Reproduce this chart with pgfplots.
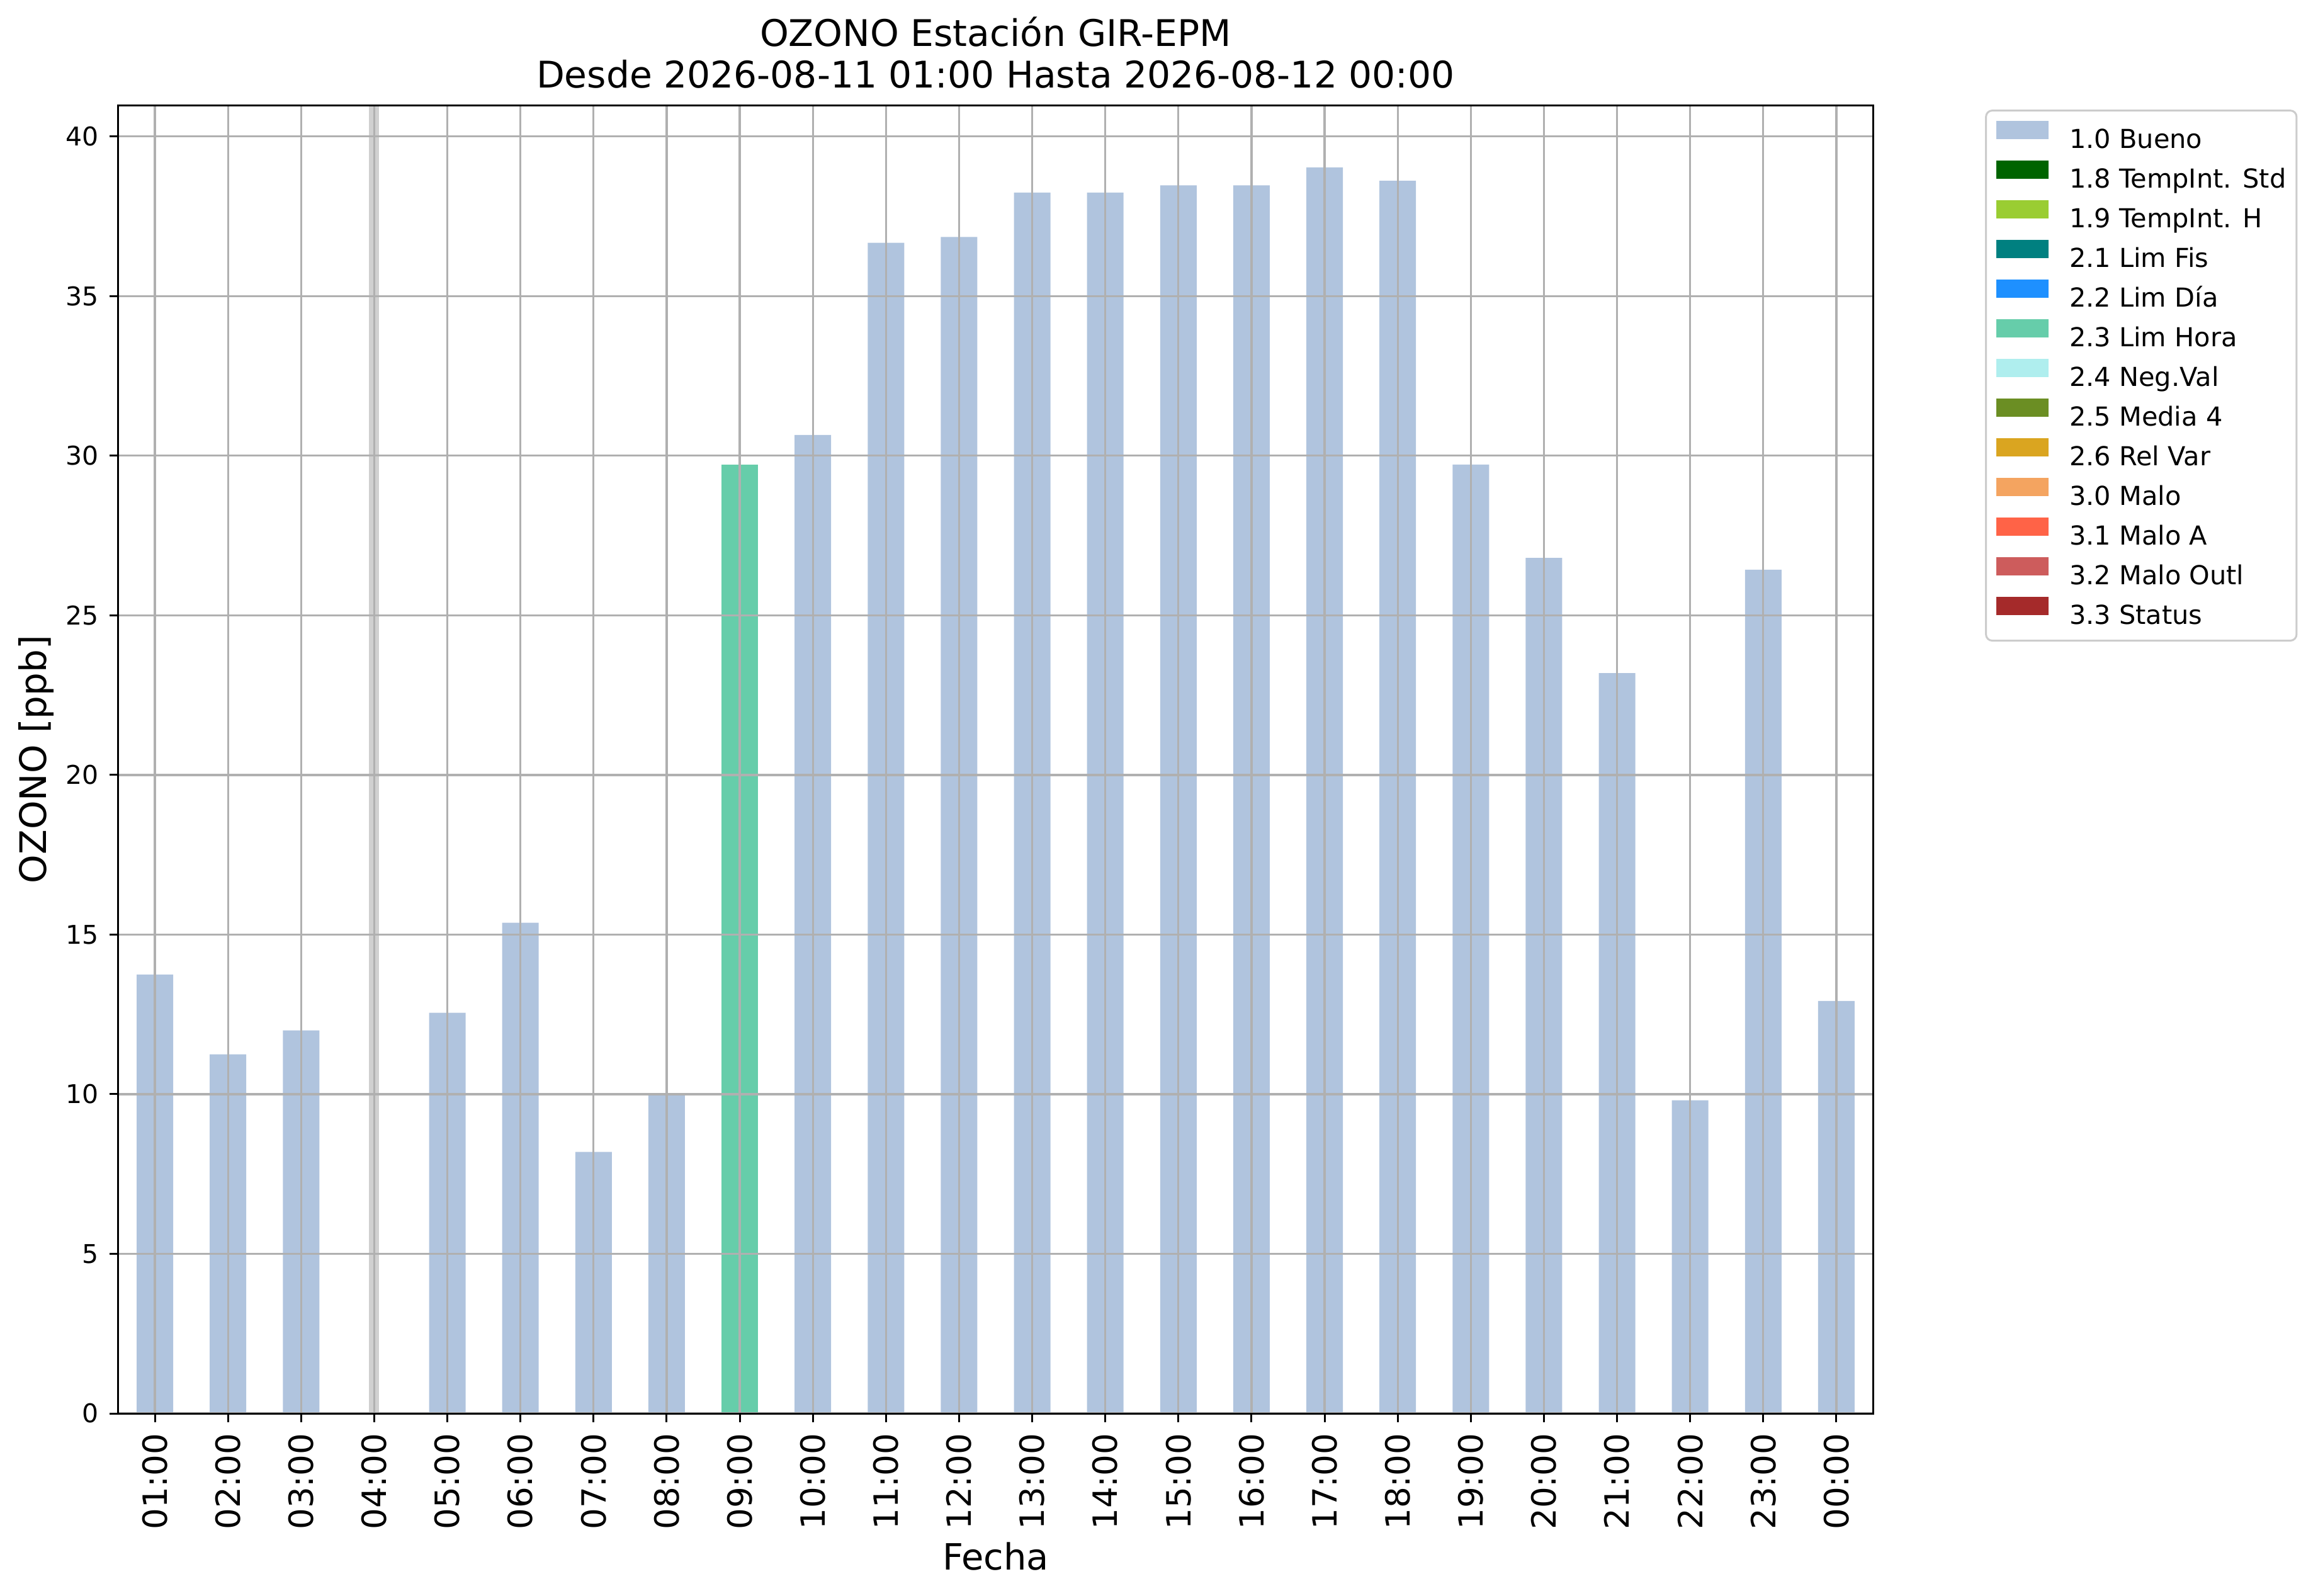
\documentclass[border=0pt]{standalone}
\usepackage{fontspec}
\setmainfont{DejaVu Sans}
\usepackage{pgfplots}
\pgfplotsset{compat=1.18}
\definecolor{bueno}{HTML}{B0C4DE}
\definecolor{tstd}{HTML}{006400}
\definecolor{th}{HTML}{9ACD32}
\definecolor{lfis}{HTML}{008080}
\definecolor{ldia}{HTML}{1E90FF}
\definecolor{lhora}{HTML}{66CDAA}
\definecolor{negval}{HTML}{AFEEEE}
\definecolor{media}{HTML}{6B8E23}
\definecolor{relvar}{HTML}{DAA520}
\definecolor{malo}{HTML}{F4A460}
\definecolor{maloa}{HTML}{FF6347}
\definecolor{maloo}{HTML}{CD5C5C}
\definecolor{status}{HTML}{A52A2A}
\definecolor{gridc}{HTML}{B0B0B0}
\definecolor{bandc}{HTML}{D0D0D0}
\definecolor{legc}{HTML}{CCCCCC}
\begin{document}
\begin{tikzpicture}
\path[use as bounding box] (-37.6pt,-57.8pt) rectangle (698.8pt,449pt);
\begin{axis}[
  at={(0,0)}, anchor=south west,
  scale only axis, width=557.4pt, height=415.6pt,
  xmin=-0.5, xmax=23.5, ymin=0, ymax=40.98,
  xtick={0,...,23},
  xticklabels={01:00,02:00,03:00,04:00,05:00,06:00,07:00,08:00,09:00,10:00,11:00,12:00,13:00,14:00,15:00,16:00,17:00,18:00,19:00,20:00,21:00,22:00,23:00,00:00},
  ytick={0,5,...,40},
  /pgf/number format/assume math mode=true,
  grid=major,
  grid style={color=gridc, line width=0.66pt},
  axis line style={line width=0.6pt},
  tick style={black, line width=0.6pt},
  tick align=outside, major tick length=2.8pt,
  xtick pos=bottom, ytick pos=left,
  axis on top,
  yticklabel style={font=\fontsize{8.2}{9}\selectfont},
  xticklabel style={rotate=90, anchor=east, font=\fontsize{10.6}{12}\selectfont},
  title={OZONO Estación GIR-EPM\\Desde 2026-08-11 01:00 Hasta 2026-08-12 00:00},
  title style={at={(axis description cs:0.5,1)}, anchor=center, yshift=10.6pt, align=center, font=\fontsize{11.66}{13.2}\selectfont},
  xlabel={Fecha},
  ylabel={OZONO [ppb]},
  every axis x label/.style={at={(axis description cs:0.5,-0.1092)}, anchor=center, font=\fontsize{11.5}{13}\selectfont},
  every axis y label/.style={at={(axis description cs:-0.0470,0.5)}, rotate=90, anchor=center, font=\fontsize{11.6}{13}\selectfont},
  legend style={at={(1.0639,0.9966)}, anchor=north west, draw=legc, line width=0.6pt, rounded corners=2pt,
    font=\fontsize{8.3}{9.7}\selectfont, inner xsep=3.3pt, inner ysep=3.3pt, row sep=2.0pt,
    nodes={inner sep=0pt, text height=7.7pt, text depth=1.96pt}, column sep=0pt},
  legend cell align=left,
  legend image code/.code={\fill[#1, draw=none, sharp corners] (0pt,-0.04pt) rectangle (16.6pt,5.77pt); \path[draw=none, fill=none] (0pt,0pt) -- (23.2pt,0pt);},
]
\addlegendimage{fill=bueno}
\addlegendentry{1.0 Bueno}
\addlegendimage{fill=tstd}
\addlegendentry{1.8 TempInt. Std}
\addlegendimage{fill=th}
\addlegendentry{1.9 TempInt. H}
\addlegendimage{fill=lfis}
\addlegendentry{2.1 Lim Fis}
\addlegendimage{fill=ldia}
\addlegendentry{2.2 Lim Día}
\addlegendimage{fill=lhora}
\addlegendentry{2.3 Lim Hora}
\addlegendimage{fill=negval}
\addlegendentry{2.4 Neg.Val}
\addlegendimage{fill=media}
\addlegendentry{2.5 Media 4}
\addlegendimage{fill=relvar}
\addlegendentry{2.6 Rel Var}
\addlegendimage{fill=malo}
\addlegendentry{3.0 Malo}
\addlegendimage{fill=maloa}
\addlegendentry{3.1 Malo A}
\addlegendimage{fill=maloo}
\addlegendentry{3.2 Malo Outl}
\addlegendimage{fill=status}
\addlegendentry{3.3 Status}

\addplot[ybar, bar width=0.138, bar shift=0pt, fill=bandc, draw=none, forget plot] coordinates {(3,40.98)};
\addplot[ybar, bar width=0.5, bar shift=0pt, fill=bueno, draw=none, forget plot] coordinates {
(0,13.75) (1,11.25) (2,12.0) (4,12.55) (5,15.37) (6,8.19) (7,10.0)
(9,30.65) (10,36.67) (11,36.85) (12,38.24) (13,38.24) (14,38.47) (15,38.47)
(16,39.03) (17,38.61) (18,29.72) (19,26.8) (20,23.19) (21,9.81) (22,26.43) (23,12.92)};
\addplot[ybar, bar width=0.5, bar shift=0pt, fill=lhora, draw=none, forget plot] coordinates {(8,29.72)};
\end{axis}
\end{tikzpicture}
\end{document}
